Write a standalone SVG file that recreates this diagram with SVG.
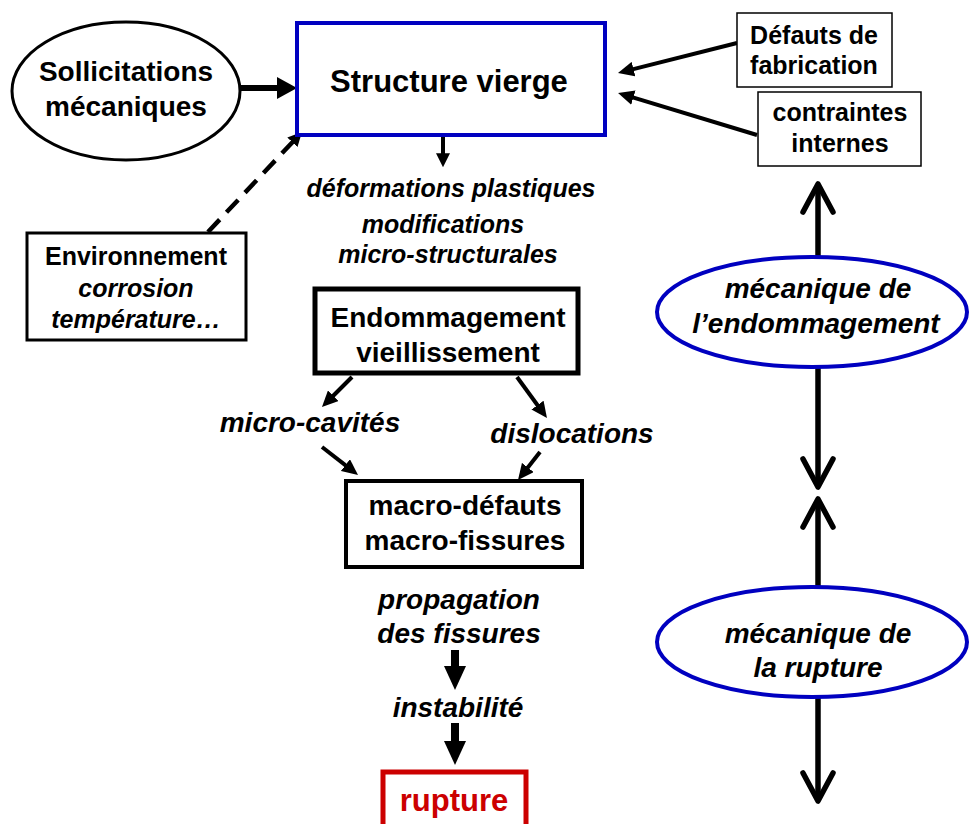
<svg xmlns="http://www.w3.org/2000/svg" width="969" height="824" viewBox="0 0 969 824">
<style>
text{font-family:"Liberation Sans",Arial,sans-serif;font-weight:bold;fill:#000;text-anchor:middle}
.it{font-style:italic}
.box{fill:#fff;stroke:#000}
.blue{fill:#fff;stroke:#0000C0;stroke-width:4}
.ln{stroke:#000;fill:none}
</style>
<defs>
<marker id="hA" markerUnits="userSpaceOnUse" markerWidth="20" markerHeight="22" viewBox="0 0 10 10" refX="2" refY="5" orient="auto" preserveAspectRatio="none"><path d="M0,0L10,5L0,10z" fill="#000"/></marker>
<marker id="hB" markerUnits="userSpaceOnUse" markerWidth="16" markerHeight="15" viewBox="0 0 10 10" refX="2" refY="5" orient="auto" preserveAspectRatio="none"><path d="M0,0L10,5L0,10z" fill="#000"/></marker>
<marker id="hS" markerUnits="userSpaceOnUse" markerWidth="14" markerHeight="14" viewBox="0 0 10 10" refX="2" refY="5" orient="auto" preserveAspectRatio="none"><path d="M0,0L10,5L0,10z" fill="#000"/></marker>
<marker id="hC" markerUnits="userSpaceOnUse" markerWidth="24" markerHeight="22" viewBox="0 0 10 10" refX="2" refY="5" orient="auto" preserveAspectRatio="none"><path d="M0,0L10,5L0,10z" fill="#000"/></marker>
<marker id="hV" markerUnits="userSpaceOnUse" markerWidth="40" markerHeight="40" viewBox="-34 -20 40 40" refX="0" refY="0" orient="auto" overflow="visible"><path d="M-28,-15L0,0L-28,15" fill="none" stroke="#000" stroke-width="5.5" stroke-linecap="round" stroke-linejoin="round"/></marker>
</defs>
<rect width="969" height="824" fill="#fff"/>
<g id="connectors">
<line class="ln" x1="240" y1="88" x2="281" y2="88" stroke-width="6" marker-end="url(#hA)"/>
<line class="ln" x1="443" y1="137" x2="443" y2="156" stroke-width="4" marker-end="url(#hS)"/>
<line class="ln" x1="208" y1="232" x2="294.3" y2="140.2" stroke-width="4.5" stroke-dasharray="17 10" marker-end="url(#hS)"/>
<line class="ln" x1="737" y1="43" x2="630.4" y2="69.9" stroke-width="4" marker-end="url(#hB)"/>
<line class="ln" x1="757" y1="135" x2="630.3" y2="96.7" stroke-width="4" marker-end="url(#hB)"/>
<line class="ln" x1="352" y1="377" x2="331" y2="398" stroke-width="4" marker-end="url(#hB)"/>
<line class="ln" x1="517" y1="377" x2="539.4" y2="407.7" stroke-width="4" marker-end="url(#hB)"/>
<line class="ln" x1="322" y1="447" x2="347.9" y2="467.1" stroke-width="4" marker-end="url(#hB)"/>
<line class="ln" x1="540" y1="452" x2="525.9" y2="470" stroke-width="4" marker-end="url(#hB)"/>
<line class="ln" x1="455" y1="650" x2="455" y2="670.8" stroke-width="8" marker-end="url(#hC)"/>
<line class="ln" x1="455" y1="723" x2="455" y2="745.8" stroke-width="8" marker-end="url(#hC)"/>
<line class="ln" x1="818" y1="257" x2="818" y2="184" stroke-width="5.5" marker-end="url(#hV)"/>
<line class="ln" x1="818" y1="367" x2="818" y2="487" stroke-width="5.5" marker-end="url(#hV)"/>
<line class="ln" x1="818" y1="587" x2="818" y2="499" stroke-width="5.5" marker-end="url(#hV)"/>
<line class="ln" x1="818" y1="697" x2="818" y2="801" stroke-width="5.5" marker-end="url(#hV)"/>
</g>
<g id="sollicitations">
<ellipse class="box" cx="126" cy="91" rx="114" ry="69" stroke-width="3"/>
<text x="126" y="81" font-size="28">Sollicitations</text>
<text x="126" y="116" font-size="28">mécaniques</text>
</g>
<g id="structure">
<rect class="blue" x="297" y="23" width="308" height="112"/>
<text x="449" y="92" font-size="31">Structure vierge</text>
</g>
<g id="defauts">
<rect class="box" x="737" y="13" width="155" height="74" stroke-width="1.5"/>
<text x="814" y="44" font-size="25">Défauts de</text>
<text x="814" y="74" font-size="25">fabrication</text>
</g>
<g id="contraintes">
<rect class="box" x="758" y="92" width="163" height="74" stroke-width="1.5"/>
<text x="840" y="121" font-size="25">contraintes</text>
<text x="840" y="152" font-size="25">internes</text>
</g>
<g id="environnement">
<rect class="box" x="27" y="233" width="219" height="107" stroke-width="3"/>
<text x="136" y="265" font-size="25">Environnement</text>
<text class="it" x="136" y="297" font-size="25">corrosion</text>
<text class="it" x="136" y="328" font-size="25">température…</text>
</g>
<g id="endommagement">
<rect class="box" x="315" y="289" width="263" height="84" stroke-width="5"/>
<text x="448" y="327" font-size="28">Endommagement</text>
<text x="448" y="362" font-size="28">vieillissement</text>
</g>
<g id="macro">
<rect class="box" x="346" y="481" width="236" height="86" stroke-width="4"/>
<text x="465" y="515" font-size="28">macro-défauts</text>
<text x="465" y="550" font-size="28">macro-fissures</text>
</g>
<g id="rupture">
<rect x="383" y="772" width="143" height="70" fill="#fff" stroke="#CC0000" stroke-width="5"/>
<text x="454" y="811" font-size="31" style="fill:#CC0000">rupture</text>
</g>
<g id="meca-endommagement">
<ellipse class="blue" cx="812" cy="312" rx="155" ry="55"/>
<text class="it" x="818" y="298" font-size="28">mécanique de</text>
<text class="it" x="816" y="333" font-size="28">l’endommagement</text>
</g>
<g id="meca-rupture">
<ellipse class="blue" cx="812" cy="642" rx="155" ry="55"/>
<text class="it" x="818" y="643" font-size="28">mécanique de</text>
<text class="it" x="818" y="677" font-size="28">la rupture</text>
</g>
<g id="labels">
<text class="it" x="451" y="197" font-size="25">déformations plastiques</text>
<text class="it" x="443" y="233" font-size="25">modifications</text>
<text class="it" x="448" y="263" font-size="25">micro-structurales</text>
<text class="it" x="310" y="432" font-size="28">micro-cavités</text>
<text class="it" x="572" y="443" font-size="28">dislocations</text>
<text class="it" x="459" y="609" font-size="28">propagation</text>
<text class="it" x="459" y="643" font-size="28">des fissures</text>
<text class="it" x="458" y="717" font-size="28">instabilité</text>
</g>
</svg>
